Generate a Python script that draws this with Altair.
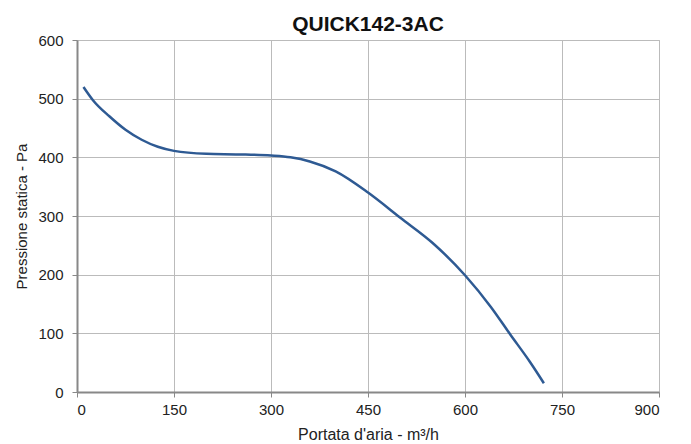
import altair as alt
import pandas as pd

portata = [10, 25, 50, 75, 100, 125, 150, 200, 250, 300, 330, 360, 400, 450, 500, 550, 600, 640, 670, 700, 722]
pressione = [520, 497, 470, 447, 430, 418, 411, 406, 405, 403, 400, 393, 376, 340, 297, 254, 199, 145, 98, 52, 15]

df = pd.DataFrame({"x": portata, "y": pressione})

chart = alt.Chart(df).mark_line(
    color="#2E5A93", strokeWidth=2.5, interpolate="monotone"
).encode(
    x=alt.X("x:Q", title="Portata d'aria - m³/h",
            scale=alt.Scale(domain=[0, 900], nice=False),
            axis=alt.Axis(values=[0, 150, 300, 450, 600, 750, 900], titlePadding=9,
                          labelPadding=5, titleFontSize=16)),
    y=alt.Y("y:Q", title="Pressione statica - Pa",
            scale=alt.Scale(domain=[0, 600], nice=False),
            axis=alt.Axis(values=[0, 100, 200, 300, 400, 500, 600], titlePadding=8,
                          labelPadding=9, titleFontSize=15)),
).properties(
    width=582, height=352,
    title=alt.TitleParams("QUICK142-3AC", fontSize=21, fontWeight="bold",
                          font="Liberation Sans", color="#111", offset=-2),
    autosize=alt.AutoSizeParams(type="none"),
    padding={"left": 69, "top": 32, "right": 20, "bottom": 52},
).configure_view(stroke="#bbb", strokeWidth=1).configure_axis(
    labelFont="Liberation Sans", titleFont="Liberation Sans",
    labelFontSize=15, labelColor="#222", titleColor="#222",
    titleFontWeight="normal", gridColor="#bbb", gridWidth=1,
    domainColor="#888", domainWidth=2, tickColor="#888", tickSize=5,
)

chart.save("out.html", embed_options={"renderer": "svg", "actions": False})
